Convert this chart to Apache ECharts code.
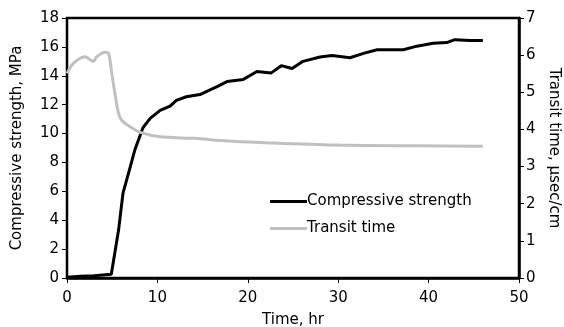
<!DOCTYPE html>
<html>
<head>
<meta charset="utf-8">
<script src="https://cdn.jsdelivr.net/npm/echarts@6/dist/echarts.min.js"></script>
<style>
  html, body { margin: 0; padding: 0; background: #fff; }
  #chart { width: 564px; height: 327px; }
</style>
</head>
<body>
<div id="chart"></div>
<script>
// Time (hr) and compressive strength (MPa)
const strengthTime = [0, 1.5, 3, 4.9, 5.1, 5.7, 6.2, 6.8, 7.5, 8.4, 9.2, 10.3, 11.4, 12.1, 13.2, 14.7, 16.6, 17.7, 19.5, 20.2, 21.0, 22.6, 23.7, 24.9, 26.1, 28.0, 29.3, 31.3, 32.8, 34.3, 37.2, 38.7, 40.5, 42.0, 42.9, 44.6, 46.0];
const strengthValues = [0.05, 0.12, 0.15, 0.26, 0.35, 3.3, 5.9, 7.25, 8.86, 10.4, 11.05, 11.6, 11.9, 12.3, 12.55, 12.7, 13.25, 13.6, 13.75, 14.0, 14.3, 14.2, 14.7, 14.5, 15.0, 15.3, 15.4, 15.25, 15.55, 15.8, 15.8, 16.05, 16.25, 16.3, 16.5, 16.45, 16.45];

// Time (hr) and ultrasonic transit time (µsec/cm)
const transitTime = [0, 0.7, 2.0, 2.9, 3.3, 4.2, 4.6, 4.95, 5.3, 5.7, 6.05, 7.0, 8.1, 10.3, 14.0, 17.7, 21.3, 29.5, 38.7, 46.0];
const transitValues = [5.51, 5.78, 5.96, 5.83, 5.96, 6.08, 6.05, 5.51, 4.97, 4.43, 4.25, 4.07, 3.92, 3.80, 3.76, 3.69, 3.65, 3.58, 3.56, 3.55];

// Axis ticks
const timeTicks = { min: 0, max: 50, step: 10 };
const strengthTicks = { min: 0, max: 18, step: 2 };
const transitTicks = { min: 0, max: 7, step: 1 };

const pair = (xs, ys) => xs.map((x, i) => [x, ys[i]]);

const FONT = 'DejaVu Sans, Verdana, sans-serif';
const FS = 15;
const chart = echarts.init(document.getElementById('chart'));

const tick = { show: true, length: 5, lineStyle: { color: '#000', width: 1 } };
const label = (margin) => ({ fontFamily: FONT, fontSize: FS, color: '#000', margin });
const nameStyle = { fontFamily: FONT, fontSize: FS, color: '#000' };

chart.setOption({
  animation: false,
  backgroundColor: '#fff',
  textStyle: { fontFamily: FONT, color: '#000' },
  grid: {
    left: 67, right: 45, top: 18, bottom: 49,
    outerBoundsMode: 'none', containLabel: false,
    show: true, borderColor: '#000', borderWidth: 2.5, backgroundColor: 'transparent'
  },
  legend: {
    left: 265, top: 189, orient: 'vertical', itemGap: 12,
    itemWidth: 37, itemHeight: 3,
    icon: 'rect',
    textStyle: { fontFamily: FONT, fontSize: FS, color: '#000', padding: [0, 0, 0, -5] },
    data: ['Compressive strength', 'Transit time']
  },
  xAxis: {
    type: 'value', min: timeTicks.min, max: timeTicks.max, interval: timeTicks.step,
    name: 'Time, hr', nameLocation: 'middle', nameGap: 35,
    nameTextStyle: nameStyle,
    axisLine: { lineStyle: { color: '#000', width: 2.5 } },
    axisTick: tick,
    axisLabel: label(13),
    splitLine: { show: false }
  },
  yAxis: [
    {
      type: 'value', min: strengthTicks.min, max: strengthTicks.max, interval: strengthTicks.step,
      name: 'Compressive strength, MPa', nameLocation: 'middle', nameGap: 42,
      nameTextStyle: nameStyle,
      axisLine: { show: true, lineStyle: { color: '#000', width: 2 } },
      axisTick: tick,
      axisLabel: label(8),
      splitLine: { show: false }
    },
    {
      type: 'value', min: transitTicks.min, max: transitTicks.max, interval: transitTicks.step,
      position: 'right',
      name: 'Transit time, μsec/cm', nameLocation: 'middle', nameGap: 23, nameRotate: -90,
      nameTextStyle: nameStyle,
      axisLine: { show: true, lineStyle: { color: '#000', width: 2.5 } },
      axisTick: tick,
      axisLabel: label(7),
      splitLine: { show: false }
    }
  ],
  series: [
    {
      name: 'Compressive strength', type: 'line', yAxisIndex: 0,
      data: pair(strengthTime, strengthValues),
      showSymbol: false,
      lineStyle: { color: '#000', width: 3 },
      itemStyle: { color: '#000' }
    },
    {
      name: 'Transit time', type: 'line', yAxisIndex: 1,
      data: pair(transitTime, transitValues),
      showSymbol: false, smooth: 0.3,
      lineStyle: { color: '#c0c0c0', width: 3 },
      itemStyle: { color: '#c0c0c0' }
    }
  ]
});
</script>
</body>
</html>
